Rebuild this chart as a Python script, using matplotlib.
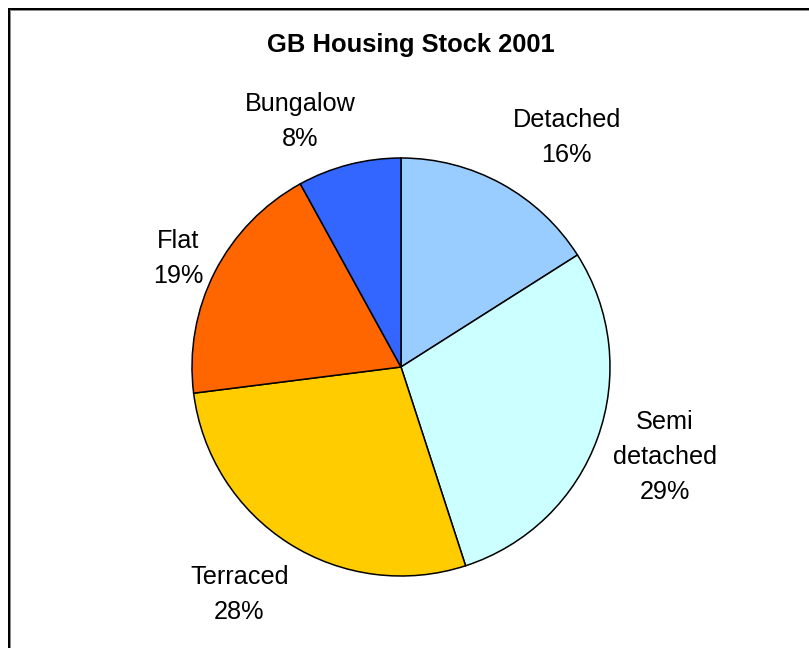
import numpy as np
import matplotlib
matplotlib.use("Agg")
import matplotlib.pyplot as plt
from matplotlib.lines import Line2D

plt.rcParams['font.family'] = ['Liberation Sans', 'DejaVu Sans']

categories = ['Detached', 'Semi\ndetached', 'Terraced', 'Flat', 'Bungalow']
shares = [16, 29, 28, 19, 8]
colors = ['#99CCFF', '#CCFFFF', '#FFCC00', '#FF6600', '#3366FF']

# label placement: distance from centre (in radii) and angle shift (deg)
label_dist = [1.355, 1.335, 1.335, 1.185, 1.27]
label_shift = [-7, 1, -3, 1, 8]

W, H = 809, 648
cx, cy, rad = 401, 367, 209  # pie centre / radius in pixels

fig = plt.figure(figsize=(W / 100, H / 100), dpi=100)
ax = fig.add_axes([0, 0, 1, 1])

wedges, _ = ax.pie(shares, colors=colors, startangle=90, counterclock=False,
                   wedgeprops=dict(edgecolor='black', linewidth=1.1))

ax.set_xlim(-cx / rad, (W - cx) / rad)
ax.set_ylim(-(H - cy) / rad, cy / rad)
ax.set_aspect('auto')
ax.axis('off')

for w, name, val, d, s in zip(wedges, categories, shares, label_dist, label_shift):
    mid = np.deg2rad((w.theta1 + w.theta2) / 2 + s)
    ax.text(d * np.cos(mid), d * np.sin(mid), f'{name}\n{val}%',
            ha='center', va='center', fontsize=18.2, linespacing=1.56)

fig.text(411 / W, 1 - 45 / H, 'GB Housing Stock 2001', ha='center', va='center',
         fontsize=18.4, fontweight='bold')

# chart frame (top and left edges, grey shadow under the black line)
px = 1 / W
py = 1 / H
for pos, col, lw in [(9.5, '#8c8c8c', 2.16), (9.0, 'black', 1.44)]:
    fig.add_artist(Line2D([8 * px, 1], [1 - pos * py] * 2, color=col, lw=lw,
                          solid_capstyle='butt', snap=False))
    fig.add_artist(Line2D([pos * px] * 2, [0, 1 - 8 * py], color=col, lw=lw,
                          solid_capstyle='butt', snap=False))

fig.savefig('out.png', dpi=100)
